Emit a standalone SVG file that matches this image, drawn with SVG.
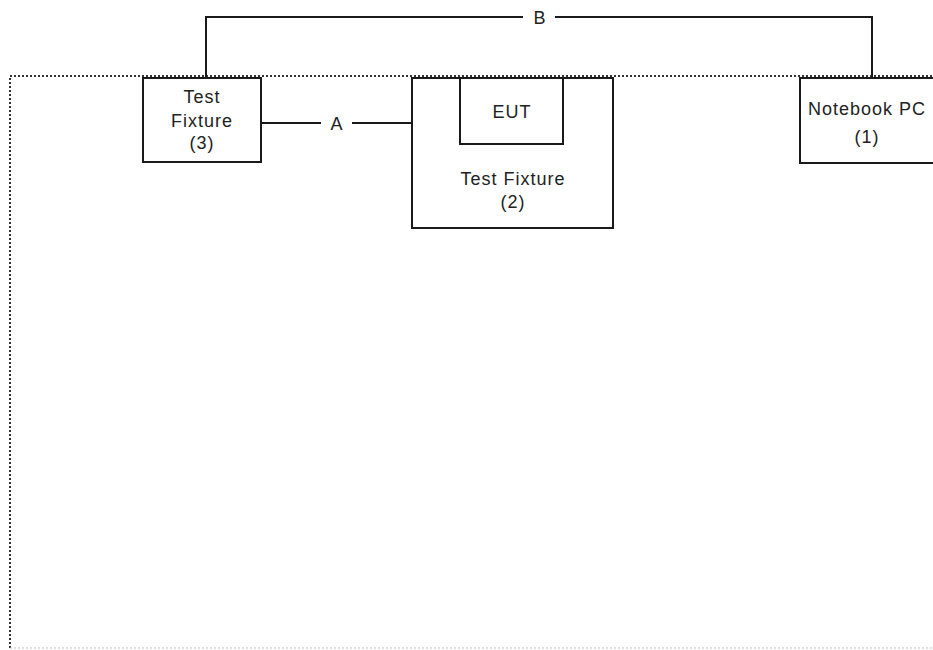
<svg xmlns="http://www.w3.org/2000/svg" width="933" height="650" viewBox="0 0 933 650">
<style>
.box{fill:#fff;stroke:#1a1a1a;stroke-width:2}
.wire{fill:none;stroke:#1a1a1a;stroke-width:2}
.t{font-family:"Liberation Sans",Arial,sans-serif;font-size:18px;letter-spacing:1px;fill:#222;text-anchor:middle}
.area{fill:none;stroke:#333;stroke-width:2;stroke-dasharray:2 2}
</style>
<rect width="933" height="650" fill="#fff"/>
<g id="area">
<path class="area" d="M940 76 H10 V648"/>
<path d="M10 648 H940" fill="none" stroke="#bbb" stroke-width="1.2" stroke-dasharray="2 2"/>
</g>
<g id="connectors">
<path class="wire" d="M206 78 V17 H523"/>
<path class="wire" d="M555 17 H872 V78"/>
<text class="t" x="540" y="24">B</text>
<path class="wire" d="M261 123 H321"/>
<path class="wire" d="M352 123 H412"/>
<text class="t" x="337" y="130">A</text>
</g>
<g id="fixture3">
<rect class="box" x="143" y="78" width="118" height="84"/>
<text class="t" x="202" y="103">Test</text>
<text class="t" x="202" y="127">Fixture</text>
<text class="t" x="202" y="149">(3)</text>
</g>
<g id="fixture2">
<rect class="box" x="412" y="78" width="201" height="150"/>
<text class="t" x="513" y="185">Test Fixture</text>
<text class="t" x="513" y="208">(2)</text>
</g>
<g id="eut">
<rect class="box" x="460" y="78" width="103" height="66"/>
<text class="t" x="512" y="118">EUT</text>
</g>
<g id="notebook">
<rect class="box" x="800" y="78" width="140" height="85"/>
<text class="t" x="867" y="115">Notebook PC</text>
<text class="t" x="867" y="143">(1)</text>
</g>
</svg>
